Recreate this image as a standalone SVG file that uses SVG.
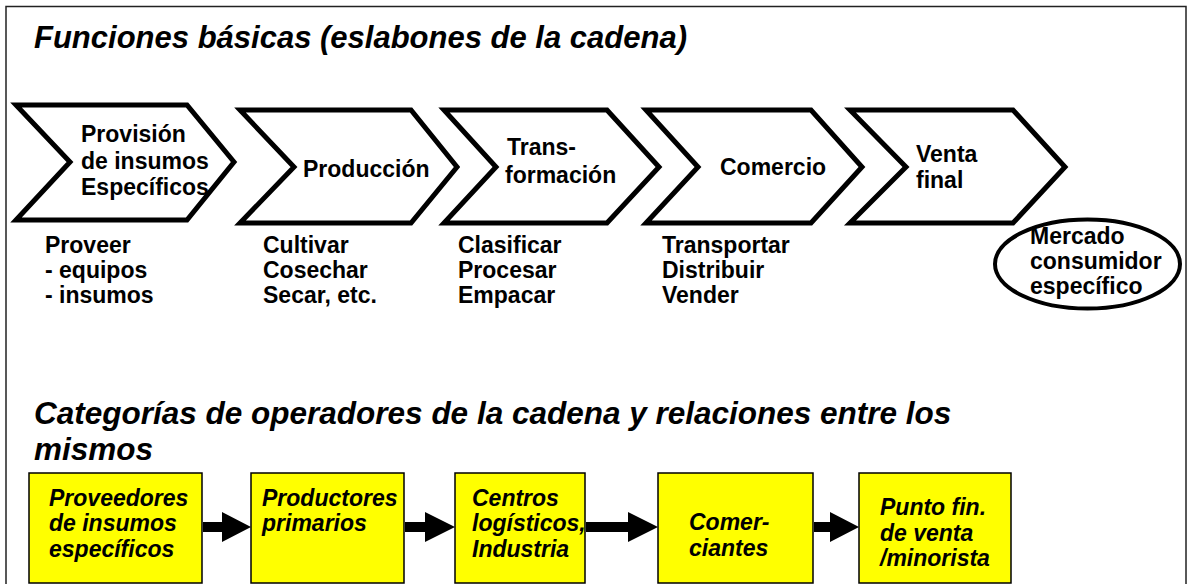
<svg xmlns="http://www.w3.org/2000/svg" width="1190" height="584" viewBox="0 0 1190 584">
<style>
.t{font-family:"Liberation Sans",Arial,sans-serif;font-weight:bold;font-size:23px;fill:#000}
.ti{font-family:"Liberation Sans",Arial,sans-serif;font-weight:bold;font-style:italic;font-size:31px;fill:#000}
.ti2{font-family:"Liberation Sans",Arial,sans-serif;font-weight:bold;font-style:italic;font-size:31.5px;fill:#000}
.bi{font-family:"Liberation Sans",Arial,sans-serif;font-weight:bold;font-style:italic;font-size:23px;fill:#000}
.chev{fill:#fff;stroke:#000;stroke-width:5;stroke-linejoin:miter}
.box{fill:#ffff00;stroke:#000;stroke-width:1.5}
.arr{fill:#000}
</style>
<rect x="0" y="0" width="1190" height="584" fill="#fff"/>
<rect x="6" y="6.5" width="1180" height="620" fill="none" stroke="#222" stroke-width="1.5"/>

<text class="ti" x="34" y="48">Funciones básicas (eslabones de la cadena)</text>

<g id="chev1">
<polygon class="chev" points="16,105 187,105 234,162 187,220 16,220 70,162"/>
<text class="t" x="81" y="142">Provisión</text>
<text class="t" x="81" y="169">de insumos</text>
<text class="t" x="81" y="195">Específicos</text>
</g>
<g id="chev2">
<polygon class="chev" points="240,110 411,110 457,167 411,223 240,223 294,167"/>
<text class="t" x="303" y="177">Producción</text>
</g>
<g id="chev3">
<polygon class="chev" points="444,110 607,110 659,167 607,223 444,223 496,167"/>
<text class="t" x="507" y="155">Trans-</text>
<text class="t" x="505" y="183">formación</text>
</g>
<g id="chev4">
<polygon class="chev" points="646,110 811,110 862,167 811,223 646,223 698,167"/>
<text class="t" x="720" y="175">Comercio</text>
</g>
<g id="chev5">
<polygon class="chev" points="850,110 1013,110 1065,167 1013,223 850,223 906,167"/>
<text class="t" x="916" y="162">Venta</text>
<text class="t" x="916" y="188">final</text>
</g>

<g id="desc1">
<text class="t" x="45" y="253">Proveer</text>
<text class="t" x="45" y="278">- equipos</text>
<text class="t" x="45" y="303">- insumos</text>
</g>
<g id="desc2">
<text class="t" x="263" y="253">Cultivar</text>
<text class="t" x="263" y="278">Cosechar</text>
<text class="t" x="263" y="303">Secar, etc.</text>
</g>
<g id="desc3">
<text class="t" x="458" y="253">Clasificar</text>
<text class="t" x="458" y="278">Procesar</text>
<text class="t" x="458" y="303">Empacar</text>
</g>
<g id="desc4">
<text class="t" x="662" y="253">Transportar</text>
<text class="t" x="662" y="278">Distribuir</text>
<text class="t" x="662" y="303">Vender</text>
</g>

<g id="mercado">
<ellipse cx="1087.5" cy="264" rx="92.5" ry="44.5" fill="#fff" stroke="#000" stroke-width="4"/>
<text class="t" x="1030" y="244">Mercado</text>
<text class="t" x="1030" y="269">consumidor</text>
<text class="t" x="1030" y="294">específico</text>
</g>

<text class="ti2" x="34" y="424">Categorías de operadores de la cadena y relaciones entre los</text>
<text class="ti2" x="34" y="460">mismos</text>

<g id="op1">
<rect class="box" x="29" y="473" width="173" height="110"/>
<text class="bi" x="49" y="506">Proveedores</text>
<text class="bi" x="49" y="531">de insumos</text>
<text class="bi" x="49" y="557">específicos</text>
</g>
<g id="op2">
<rect class="box" x="251" y="473" width="153" height="110"/>
<text class="bi" x="262" y="506">Productores</text>
<text class="bi" x="262" y="531">primarios</text>
</g>
<g id="op3">
<rect class="box" x="455" y="473" width="130" height="110"/>
<text class="bi" x="472" y="506">Centros</text>
<text class="bi" x="472" y="531">logísticos,</text>
<text class="bi" x="472" y="557">Industria</text>
</g>
<g id="op4">
<rect class="box" x="658" y="473" width="155" height="110"/>
<text class="bi" x="689" y="530">Comer-</text>
<text class="bi" x="689" y="556">ciantes</text>
</g>
<g id="op5">
<rect class="box" x="859" y="473" width="152" height="110"/>
<text class="bi" x="880" y="515">Punto fin.</text>
<text class="bi" x="880" y="541">de venta</text>
<text class="bi" x="880" y="566">/minorista</text>
</g>

<g id="connectors">
<polygon class="arr" points="203,522 222,522 222,512 251,527 222,542 222,532 203,532"/>
<polygon class="arr" points="405,522 425,522 425,512 455,527 425,542 425,532 405,532"/>
<polygon class="arr" points="586,522 628,522 628,512 658,527 628,542 628,532 586,532"/>
<polygon class="arr" points="814,522 830,522 830,512 859,527 830,542 830,532 814,532"/>
</g>
</svg>
